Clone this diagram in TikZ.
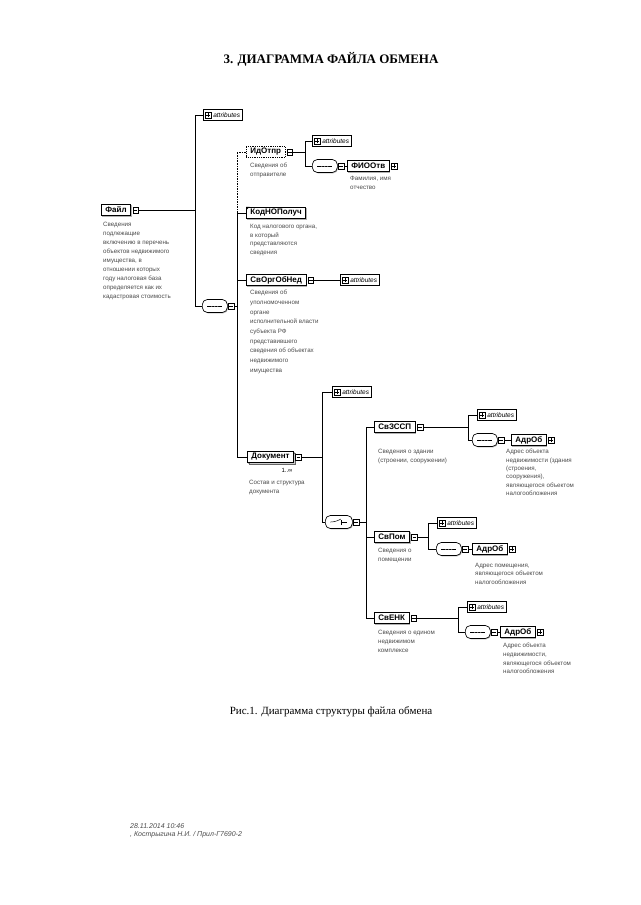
\documentclass[tikz,border=0pt]{standalone}
\usepackage{fontspec}
\setmainfont{Liberation Serif}
\setsansfont{Liberation Sans}
\usetikzlibrary{shadows}
\tikzset{
  conn/.style={line width=0.65pt},
  elbase/.style={draw, line width=0.8pt, fill=white, font=\sffamily\bfseries\fontsize{8}{9}\selectfont, inner xsep=4pt, inner ysep=0pt, minimum height=11.5pt, anchor=west},
  el/.style={elbase, drop shadow={shadow xshift=1pt, shadow yshift=-1pt, fill=gray!60, opacity=1}},
  desc/.style={font=\sffamily\fontsize{6.2}{#1}\selectfont, text=black!70, align=left, anchor=north west, inner sep=0pt},
  desc/.default=9,
  mbox/.style={draw, line width=0.5pt, fill=white, minimum width=5.5pt, minimum height=6.5pt, inner sep=0pt, anchor=west,
    path picture={\draw[line width=0.45pt] ([xshift=1pt]path picture bounding box.west) -- ([xshift=-1pt]path picture bounding box.east);}},
  pbox/.style={draw, line width=0.5pt, fill=white, minimum width=5.5pt, minimum height=6.5pt, inner sep=0pt, anchor=west,
    path picture={\draw[line width=0.45pt] ([xshift=1pt]path picture bounding box.west) -- ([xshift=-1pt]path picture bounding box.east);
      \draw[line width=0.45pt] ([yshift=1pt]path picture bounding box.south) -- ([yshift=-1pt]path picture bounding box.north);}},
  attr/.style={draw, line width=0.65pt, fill=white, font=\sffamily\itshape\fontsize{6.5}{7}\selectfont, inner xsep=2.5pt, inner ysep=0pt, minimum height=11pt, anchor=west,
    drop shadow={shadow xshift=0.8pt, shadow yshift=-0.8pt, fill=gray!60, opacity=1}},
  seqc/.style={draw, line width=0.65pt, fill=white, rounded corners=5pt, minimum width=25pt, minimum height=13pt, inner sep=0pt, anchor=west,
    drop shadow={shadow xshift=0.8pt, shadow yshift=-0.8pt, fill=gray!60, opacity=1},
    path picture={\draw[line width=0.5pt] ([xshift=5pt]path picture bounding box.west) -- ([xshift=-5pt]path picture bounding box.east);
      \fill ([xshift=-3pt]path picture bounding box.center) circle (0.6pt);
      \fill (path picture bounding box.center) circle (0.6pt);
      \fill ([xshift=3pt]path picture bounding box.center) circle (0.6pt);}},
  choicec/.style={draw, line width=0.65pt, fill=white, rounded corners=5pt, minimum width=27pt, minimum height=13pt, inner sep=0pt, anchor=west,
    drop shadow={shadow xshift=0.8pt, shadow yshift=-0.8pt, fill=gray!60, opacity=1},
    path picture={\draw[line width=0.5pt] ([xshift=5pt]path picture bounding box.west) -- ([xshift=-3pt]path picture bounding box.center) -- ([xshift=2pt,yshift=3pt]path picture bounding box.center);
      \draw[line width=0.5pt] ([xshift=2pt]path picture bounding box.center) -- ([xshift=-5pt]path picture bounding box.east);
      \draw[line width=0.5pt] ([xshift=2pt,yshift=-2.5pt]path picture bounding box.center) -- ([xshift=2pt,yshift=2.5pt]path picture bounding box.center);}},
}
\begin{document}
\begin{tikzpicture}[x=1pt,y=-1pt]
\path[fill=white] (0,0) rectangle (640,905);
\useasboundingbox (0,0) rectangle (640,905);

% titles
\node[font=\fontsize{13}{15}\selectfont\bfseries] (title) at (331,59) {3. ДИАГРАММА ФАЙЛА ОБМЕНА};
\node[font=\fontsize{11}{13}\selectfont] (caption) at (331,712) {Рис.1. Диаграмма структуры файла обмена};
\node[font=\sffamily\itshape\fontsize{7}{8.5}\selectfont, text=black!70, align=left, anchor=north west, inner sep=0pt] (footer) at (130,823) {28.11.2014 10:46\\ , Кострыгина Н.И. / Прил-Г7690-2};

% bus coordinates
\coordinate (b1) at (195,0);
\coordinate (b2) at (237,0);
\coordinate (b3) at (305,0);
\coordinate (b4) at (322,0);
\coordinate (b5) at (366,0);
\coordinate (b6) at (468,0);
\coordinate (b7) at (428,0);
\coordinate (b8) at (458,0);

% ---- Файл
\node[el] (f) at (101,210) {Файл};
\node[mbox] (fm) at ([xshift=1.5pt]f.east) {};
\node[desc] (fd) at (103,222) {Сведения\\подлежащие\\включению в перечень\\объектов недвижимого\\имущества, в\\отношении которых\\году налоговая база\\определяется как их\\кадастровая стоимость};
\node[attr] (fa) at (203,115) {\hspace{7.5pt}attributes};
\node[pbox] (fai) at ([xshift=2pt]fa.west) {};
\node[seqc] (fs) at (202,306) {};
\node[mbox] (fsm) at ([xshift=0.5pt]fs.east) {};

% ---- ИдОтпр
\node[elbase, densely dotted] (io) at (246,152) {ИдОтпр};
\node[mbox] (iom) at ([xshift=1.5pt]io.east) {};
\node[desc] (iod) at (250,163) {Сведения об\\отправителе};
\node[attr] (ioa) at (312,141) {\hspace{7.5pt}attributes};
\node[pbox] (ioai) at ([xshift=2pt]ioa.west) {};
\node[seqc] (ios) at (312,166) {};
\node[mbox] (iosm) at ([xshift=0.5pt]ios.east) {};
\node[el] (fio) at (347,166) {ФИООтв};
\node[pbox] (fiop) at ([xshift=1.5pt]fio.east) {};
\node[desc] (fiod) at (350,176) {Фамилия, имя\\отчество};

% ---- КодНОПолуч
\node[el] (kn) at (246,213) {КодНОПолуч};
\fill (kn.north west) -- ([xshift=3.5pt]kn.north west) -- ([yshift=-3.5pt]kn.north west) -- cycle;
\node[desc=8.6] (knd) at (250,224) {Код налогового органа,\\в который\\представляются\\сведения};

% ---- СвОргОбНед
\node[el] (so) at (246,280) {СвОргОбНед};
\node[mbox] (som) at ([xshift=1.5pt]so.east) {};
\node[attr] (soa) at (340,280) {\hspace{7.5pt}attributes};
\node[pbox] (soai) at ([xshift=2pt]soa.west) {};
\node[desc=9.7] (sod) at (250,290) {Сведения об\\уполномоченном\\органе\\исполнительной власти\\субъекта РФ\\представившего\\сведения об объектах\\недвижимого\\имущества};

% ---- Документ
\node[el, copy shadow={shadow xshift=2pt, shadow yshift=-2pt, draw=black!60, fill=gray!40}] (doc) at (247,457) {Документ};
\node[mbox] (docm) at ([xshift=1.5pt]doc.east) {};
\node[font=\sffamily\fontsize{6}{7}\selectfont, inner sep=0pt] (docn) at (287,470) {1..∞};
\node[desc] (docd) at (249,480) {Состав и структура\\документа};
\node[attr] (doca) at (332,392) {\hspace{7.5pt}attributes};
\node[pbox] (docai) at ([xshift=2pt]doca.west) {};
\node[choicec] (ch) at (325,522) {};
\node[mbox] (chm) at ([xshift=0.5pt]ch.east) {};

% ---- СвЗССП
\node[el] (zs) at (374,427) {СвЗССП};
\node[mbox] (zsm) at ([xshift=1.5pt]zs.east) {};
\node[desc=8.5] (zsd) at (378,449) {Сведения о здании\\(строении, сооружении)};
\node[attr] (zsa) at (477,415) {\hspace{7.5pt}attributes};
\node[pbox] (zsai) at ([xshift=2pt]zsa.west) {};
\node[seqc] (zss) at (472,440) {};
\node[mbox] (zssm) at ([xshift=0.5pt]zss.east) {};
\node[el] (za) at (511,440) {АдрОб};
\node[pbox] (zap) at ([xshift=1.5pt]za.east) {};
\node[desc=8.4] (zad) at (506,449) {Адрес объекта\\недвижимости (здания\\(строения,\\сооружения),\\являющегося объектом\\налогообложения};

% ---- СвПом
\node[el] (pm) at (374,537) {СвПом};
\node[mbox] (pmm) at ([xshift=1.5pt]pm.east) {};
\node[desc] (pmd) at (378,548) {Сведения о\\помещении};
\node[attr] (pma) at (437,523) {\hspace{7.5pt}attributes};
\node[pbox] (pmai) at ([xshift=2pt]pma.west) {};
\node[seqc] (pms) at (436,549) {};
\node[mbox] (pmsm) at ([xshift=0.5pt]pms.east) {};
\node[el] (pa) at (472,549) {АдрОб};
\node[pbox] (pap) at ([xshift=1.5pt]pa.east) {};
\node[desc=8.5] (pad) at (475,563) {Адрес помещения,\\являющегося объектом\\налогообложения};

% ---- СвЕНК
\node[el] (ek) at (374,618) {СвЕНК};
\node[mbox] (ekm) at ([xshift=1.5pt]ek.east) {};
\node[desc] (ekd) at (378,630) {Сведения о едином\\недвижимом\\комплексе};
\node[attr] (eka) at (467,607) {\hspace{7.5pt}attributes};
\node[pbox] (ekai) at ([xshift=2pt]eka.west) {};
\node[seqc] (eks) at (465,632) {};
\node[mbox] (eksm) at ([xshift=0.5pt]eks.east) {};
\node[el] (ea) at (500,632) {АдрОб};
\node[pbox] (eap) at ([xshift=1.5pt]ea.east) {};
\node[desc=8.7] (ead) at (503,643) {Адрес объекта\\недвижимости,\\являющегося объектом\\налогообложения};

% ---- connectors
\draw[conn] (fm.east) -- (fm.east -| b1);
\draw[conn] (fa.west) -| (b1 |- fs.west) -- (fs.west);
\draw[conn] (fsm.east) -- (fsm.east -| b2);
\draw[conn, densely dotted] (io.west) -| (b2 |- kn.west);
\draw[conn] (kn.west) -| (b2 |- doc.west) -- (doc.west);
\draw[conn] (so.west) -- (so.west -| b2);

\draw[conn] (iom.east) -- (iom.east -| b3);
\draw[conn] (ioa.west) -| (b3 |- ios.west) -- (ios.west);
\draw[conn] (iosm.east) -- (fio.west);

\draw[conn] (som.east) -- (soa.west);

\draw[conn] (docm.east) -- (docm.east -| b4);
\draw[conn] (doca.west) -| (b4 |- ch.west) -- (ch.west);
\draw[conn] (chm.east) -- (chm.east -| b5);
\draw[conn] (zs.west) -| (b5 |- ek.west) -- (ek.west);
\draw[conn] (pm.west) -- (pm.west -| b5);

\draw[conn] (zsm.east) -- (zsm.east -| b6);
\draw[conn] (zsa.west) -| (b6 |- zss.west) -- (zss.west);
\draw[conn] (zssm.east) -- (za.west);

\draw[conn] (pmm.east) -- (pmm.east -| b7);
\draw[conn] (pma.west) -| (b7 |- pms.west) -- (pms.west);
\draw[conn] (pmsm.east) -- (pa.west);

\draw[conn] (ekm.east) -- (ekm.east -| b8);
\draw[conn] (eka.west) -| (b8 |- eks.west) -- (eks.west);
\draw[conn] (eksm.east) -- (ea.west);
\end{tikzpicture}
\end{document}
